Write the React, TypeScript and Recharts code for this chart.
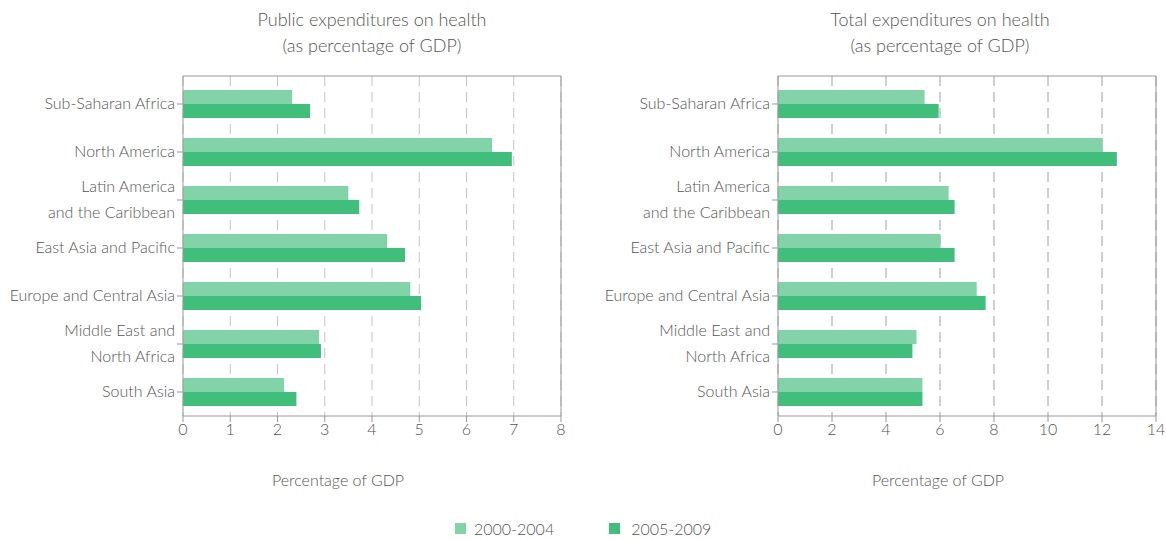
import React from "react";
import { BarChart, Bar, XAxis, YAxis, CartesianGrid } from "recharts";

const categories = [
  "Sub-Saharan Africa",
  "North America",
  "Latin America\nand the Caribbean",
  "East Asia and Pacific",
  "Europe and Central Asia",
  "Middle East and\nNorth Africa",
  "South Asia",
];
const publicEarly = [2.31, 6.54, 3.5, 4.32, 4.81, 2.88, 2.14];
const publicLate = [2.69, 6.96, 3.73, 4.7, 5.04, 2.92, 2.4];
const totalEarly = [5.43, 12.03, 6.32, 6.02, 7.36, 5.13, 5.35];
const totalLate = [5.95, 12.55, 6.54, 6.54, 7.69, 4.98, 5.35];
const publicTicks = [0, 1, 2, 3, 4, 5, 6, 7, 8];
const totalTicks = [0, 2, 4, 6, 8, 10, 12, 14];
const seriesNames = ["2000-2004", "2005-2009"];

const LIGHT = "#82d4a8";
const DARK = "#40bf7c";
const TEXT = "#555";
const FONT = "Lato, 'Open Sans', sans-serif";

const publicData = categories.map((name, i) => ({ name, early: publicEarly[i], late: publicLate[i] }));
const totalData = categories.map((name, i) => ({ name, early: totalEarly[i], late: totalLate[i] }));

const CatTick = (props: any) => {
  const { x, y, payload } = props;
  const lines = String(payload.value).split("\n");
  const lh = 26;
  const start = -((lines.length - 1) * lh) / 2;
  return (
    <text x={x} y={y} textAnchor="end" fill={TEXT} fontSize={16} fontWeight={300} fontFamily={FONT}>
      {lines.map((l, i) => (
        <tspan key={i} x={x} y={y + start + i * lh} dy="0.3em">
          {l}
        </tspan>
      ))}
    </text>
  );
};

const topEdge = (p: any) => [p.offset.top];
const rightEdge = (p: any) => [p.offset.left + p.offset.width];

function Panel({ data, ticks, max, yWidth, width, gridColor }: any) {
  return (
    <BarChart
      width={width}
      height={540}
      data={data}
      layout="vertical"
      margin={{ top: 76, right: width - yWidth - 378, bottom: 94, left: 0 }}
      barGap={0}
      barSize={14}
    >
      <CartesianGrid horizontal={false} stroke={gridColor} strokeDasharray="10 6" />
      <CartesianGrid vertical={false} horizontalCoordinatesGenerator={topEdge} stroke="#999" />
      <CartesianGrid horizontal={false} verticalCoordinatesGenerator={rightEdge} stroke="#999" />
      <XAxis
        type="number"
        domain={[0, max]}
        ticks={ticks}
        interval={0}
        height={30}
        axisLine={{ stroke: "#999" }}
        tickLine={{ stroke: "#999" }}
        tick={{ fill: TEXT, fontSize: 16, fontWeight: 300, fontFamily: FONT }}
      />
      <YAxis
        type="category"
        dataKey="name"
        width={yWidth}
        interval={0}
        padding={{ top: 4, bottom: 0 }}
        axisLine={{ stroke: "#999" }}
        tickLine={{ stroke: "#999" }}
        tick={<CatTick />}
      />
      <Bar dataKey="early" name={seriesNames[0]} fill={LIGHT} isAnimationActive={false} />
      <Bar dataKey="late" name={seriesNames[1]} fill={DARK} isAnimationActive={false} />
    </BarChart>
  );
}

const titleStyle: React.CSSProperties = {
  position: "absolute",
  textAlign: "center",
  color: TEXT,
  fontFamily: FONT,
  fontWeight: 300,
  fontSize: 18,
  lineHeight: "26px",
  width: 400,
};
const axisTitleStyle: React.CSSProperties = {
  position: "absolute",
  textAlign: "center",
  color: TEXT,
  fontFamily: FONT,
  fontWeight: 300,
  fontSize: 16,
  width: 300,
  top: 470,
};

export default function App() {
  return (
    <div style={{ position: "absolute", left: 0, top: 0, width: 1166, height: 540, background: "#fff", overflow: "hidden" }}>
      <div style={{ ...titleStyle, left: 172, top: 6 }}>
        Public expenditures on health
        <br />
        (as percentage of GDP)
      </div>
      <div style={{ ...titleStyle, left: 740, top: 6 }}>
        Total expenditures on health
        <br />
        (as percentage of GDP)
      </div>
      <div style={{ position: "absolute", left: 0, top: 0 }}>
        <Panel data={publicData} ticks={publicTicks} max={8} yWidth={183} width={580} gridColor="#c4c4c4" />
      </div>
      <div style={{ position: "absolute", left: 580, top: 0 }}>
        <Panel data={totalData} ticks={totalTicks} max={14} yWidth={198} width={586} gridColor="#a0a0a0" />
      </div>
      <div style={{ ...axisTitleStyle, left: 188 }}>Percentage of GDP</div>
      <div style={{ ...axisTitleStyle, left: 788 }}>Percentage of GDP</div>
      <div
        style={{
          position: "absolute",
          top: 519,
          left: 455,
          display: "flex",
          alignItems: "center",
          fontFamily: FONT,
          fontWeight: 300,
          fontSize: 16,
          color: TEXT,
        }}
      >
        <span style={{ width: 11, height: 11, background: LIGHT, display: "inline-block", marginRight: 8 }} />
        <span style={{ marginRight: 55 }}>{seriesNames[0]}</span>
        <span style={{ width: 11, height: 11, background: DARK, display: "inline-block", marginRight: 11 }} />
        <span>{seriesNames[1]}</span>
      </div>
    </div>
  );
}
